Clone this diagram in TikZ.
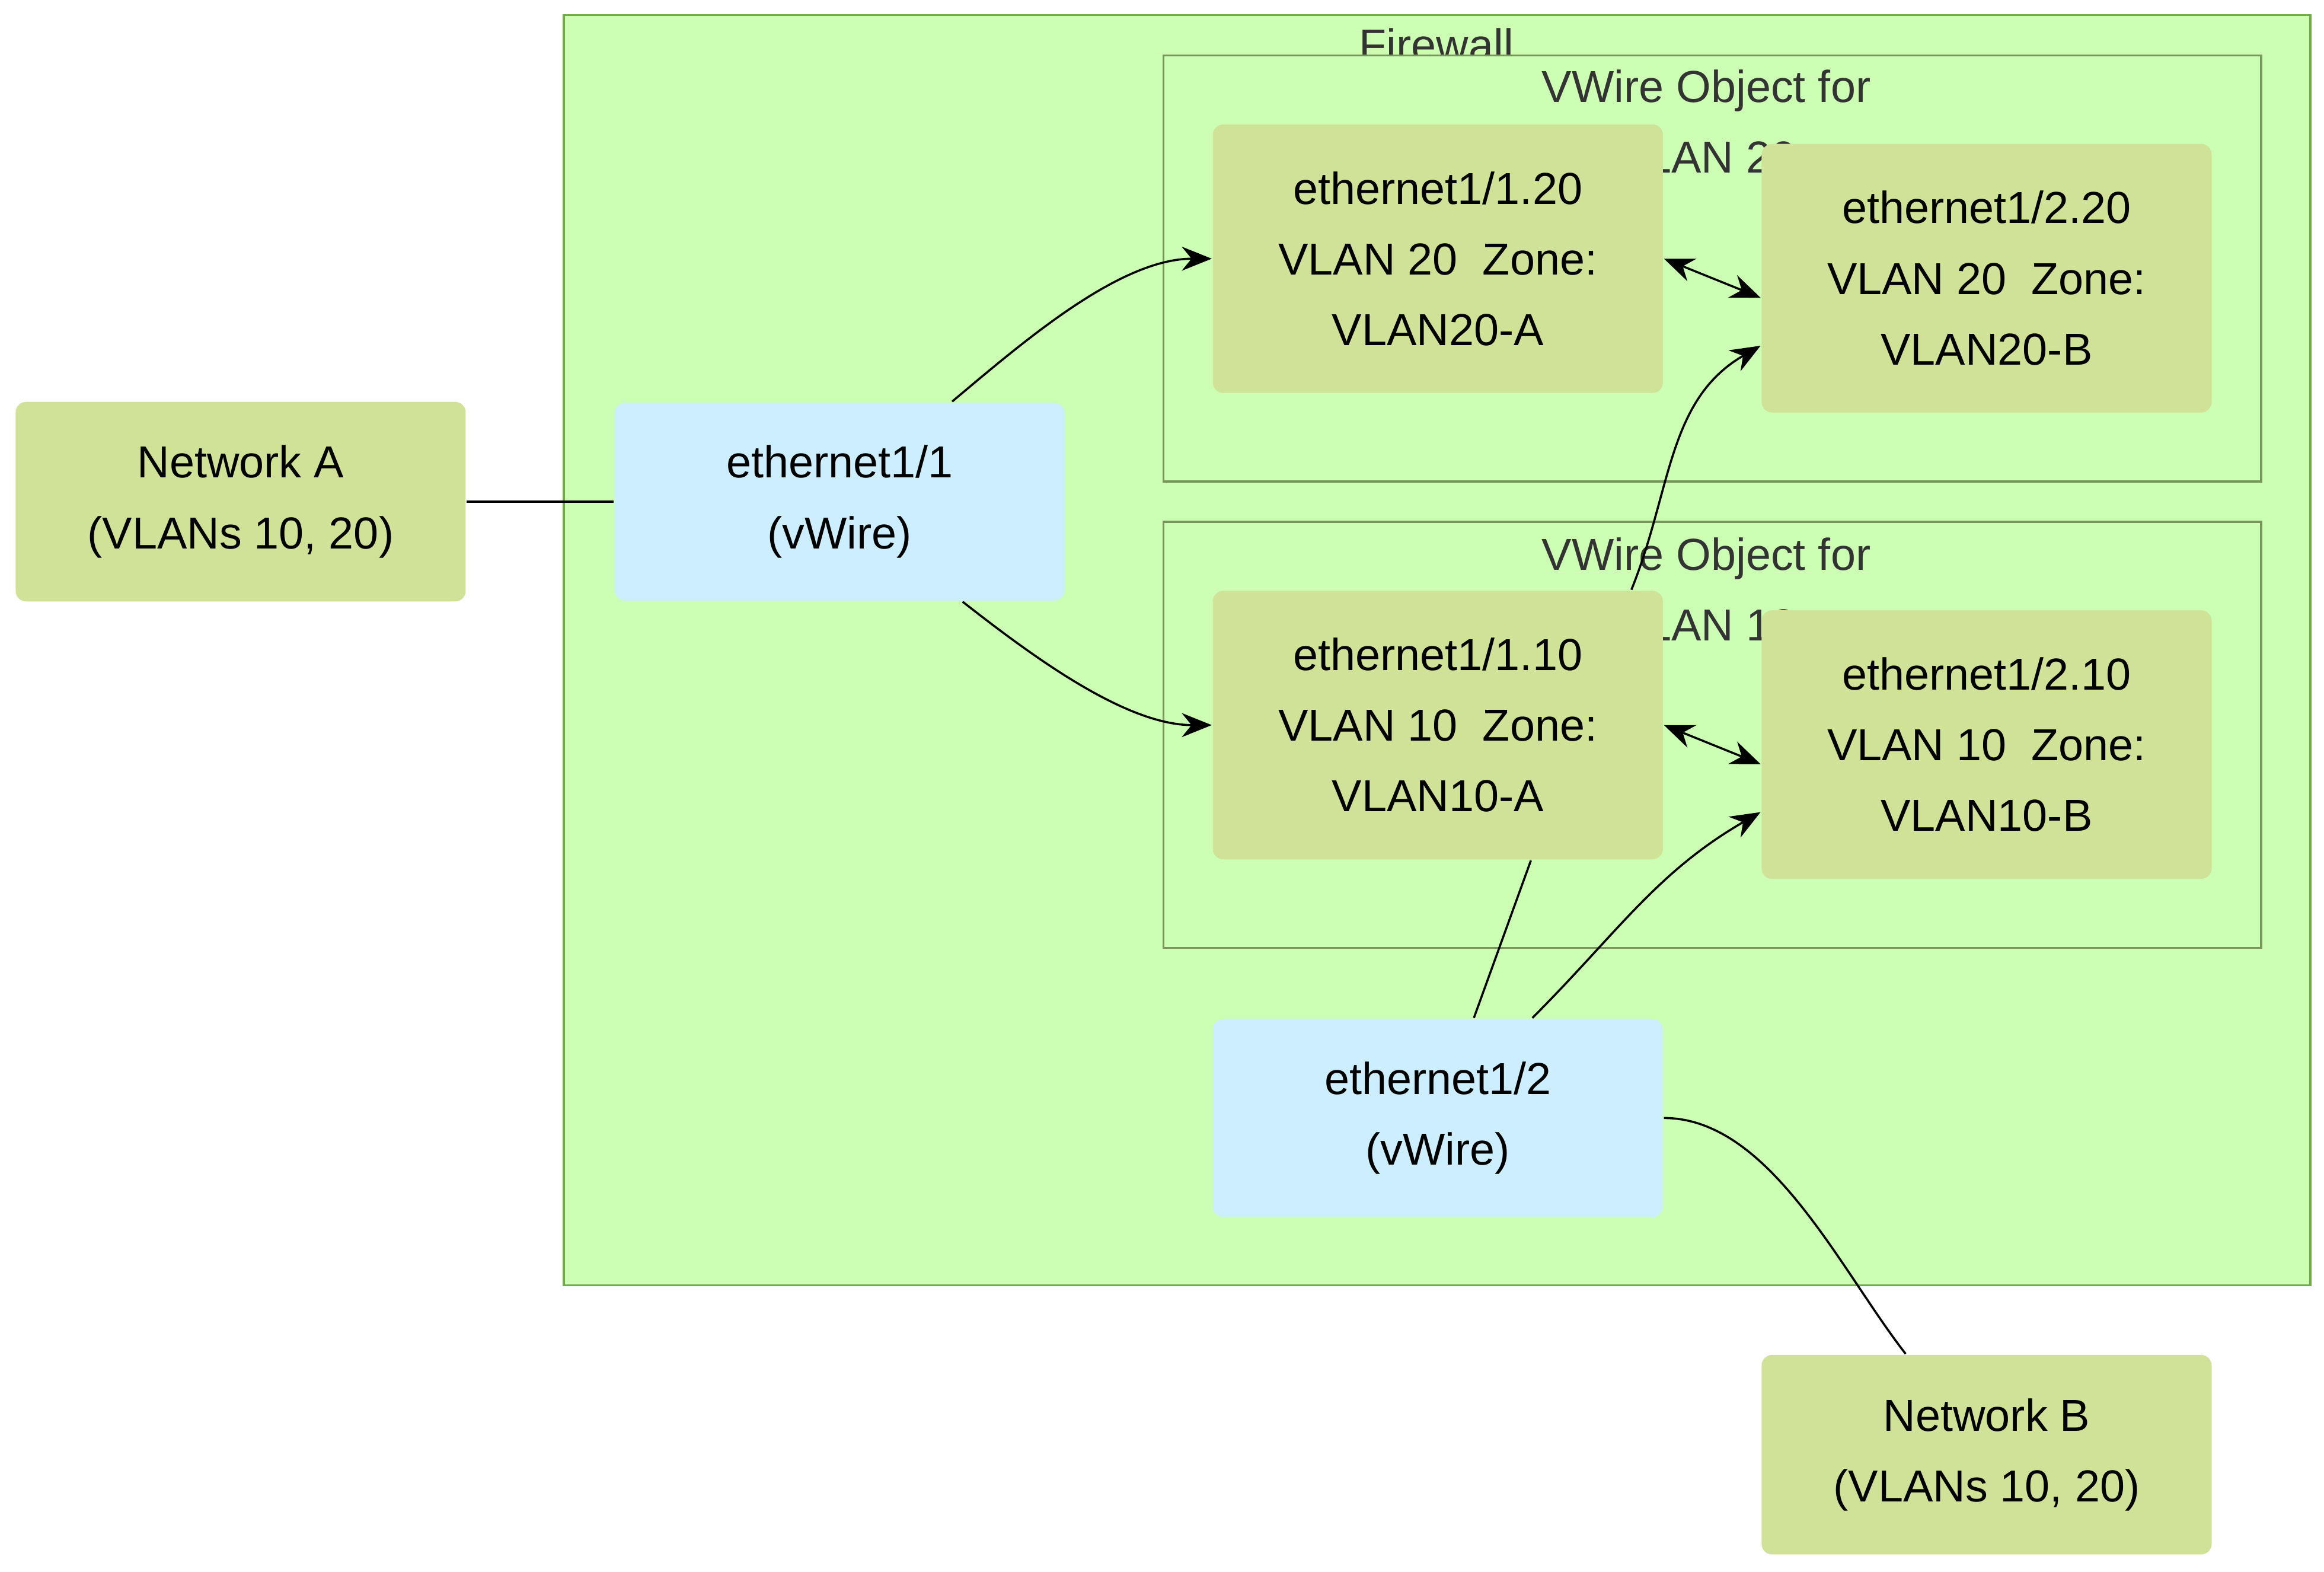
\documentclass[tikz,border=0pt]{standalone}
\usepackage{fontspec}
\setmainfont{Liberation Sans}
\usetikzlibrary{arrows.meta}
\begin{document}
\begin{tikzpicture}[x=0.01cm, y=-0.01cm, thin, >={Stealth[length=2mm,width=1.6mm]}]
                \tikzstyle{box} = [rounded corners=2pt, minimum width=3cm, align=center, font=\fontsize{8.5}{13.4}\selectfont, text=black]
                \tikzstyle{zone} = [box, fill=green!45!yellow!40!gray!50, fill={rgb,255:red,207;green,226;blue,151}, minimum height=1.79cm]
                \tikzstyle{port} = [box, fill={rgb,255:red,205;green,238;blue,254}, minimum height=1.32cm]
                \tikzstyle{net} = [box, fill={rgb,255:red,207;green,226;blue,151}, minimum height=1.33cm]
                \tikzstyle{cluster} = [draw={rgb,255:red,110;green,170;blue,70}, fill={rgb,255:red,204;green,255;blue,179}]
                \tikzstyle{title} = [font=\fontsize{8.5}{13.4}\selectfont, text={rgb,255:red,51;green,51;blue,51}, align=center]

                \useasboundingbox (0,0) rectangle (1550,1048);

                % Firewall and VWire groups
                \draw[cluster] (376,10) rectangle (1541,857);
                \node[title] (fw) at (958,30) {Firewall};
                \draw[cluster, draw={rgb,255:red,120;green,150;blue,90}] (776,37) rectangle (1508,321);
                \node[title] (vw20) at (1138,81) {VWire Object for\\VLAN 20};
                \draw[cluster, draw={rgb,255:red,120;green,150;blue,90}] (776,348) rectangle (1508,632);
                \node[title] (vw10) at (1138,393) {VWire Object for\\VLAN 10};

                % Sub-interfaces
                \node[zone] (a20) at (959,172.5) {ethernet1/1.20\\VLAN 20\ \ Zone:\\VLAN20-A};
                \node[zone] (b20) at (1325,185.5) {ethernet1/2.20\\VLAN 20\ \ Zone:\\VLAN20-B};
                \node[zone] (a10) at (959,483.5) {ethernet1/1.10\\VLAN 10\ \ Zone:\\VLAN10-A};
                \node[zone] (b10) at (1325,496.5) {ethernet1/2.10\\VLAN 10\ \ Zone:\\VLAN10-B};

                % Physical ports
                \node[port] (e11) at (560,334.5) {ethernet1/1\\(vWire)};
                \node[port] (e12) at (959,745.5) {ethernet1/2\\(vWire)};

                % Networks
                \node[net] (neta) at (160.5,334.5) {Network A\\(VLANs 10, 20)};
                \node[net] (netb) at (1325,970) {Network B\\(VLANs 10, 20)};

                \draw (neta) -- (e11);
                \draw[->] ([xshift=0.75cm]e11.north) to[out=40, in=180, looseness=0.8] (a20.west);
                \draw[->] ([xshift=0.82cm]e11.south) to[out=-38, in=180, looseness=0.8] (a10.west);
                \draw[<->] (a20.east) -- ([yshift=-0.13cm]b20.west);
                \draw[<->] (a10.east) -- ([yshift=-0.13cm]b10.west);
                \draw[->] ([xshift=1.29cm]a10.north) to[out=68, in=210] ([yshift=-0.45cm]b20.west);
                \draw ([xshift=0.24cm]e12.north) -- ([xshift=0.62cm]a10.south);
                \draw[->] ([xshift=0.63cm]e12.north) to[out=45, in=210] ([yshift=-0.45cm]b10.west);
                \draw (e12.east) to[out=0, in=128, looseness=0.8] ([xshift=-0.54cm]netb.north);
            \end{tikzpicture}
\end{document}
